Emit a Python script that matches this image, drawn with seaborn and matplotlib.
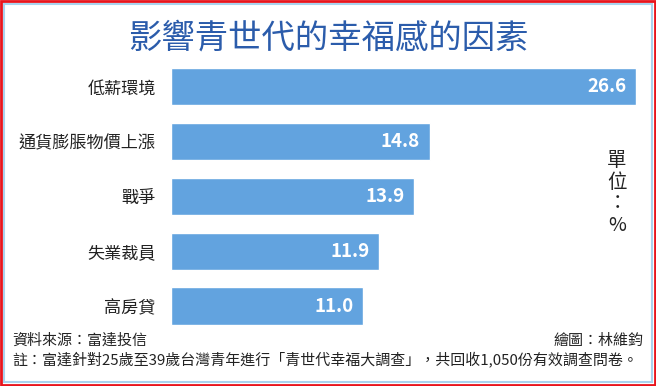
import matplotlib
matplotlib.use("Agg")
import matplotlib.pyplot as plt
import seaborn as sns
import pandas as pd
from matplotlib.patches import Rectangle

# 資料
categories = ["低薪環境", "通貨膨脹物價上漲", "戰爭", "失業裁員", "高房貸"]
values = [26.6, 14.8, 13.9, 11.9, 11.0]

title = "影響青世代的幸福感的因素"
source = "資料來源：富達投信"
credit = "繪圖：林維鈞"
note = "註：富達針對25歲至39歲台灣青年進行「青世代幸福大調查」，共回收1,050份有效調查問卷。"

sns.set_theme(style="white")
plt.rcParams["font.family"] = ["Noto Sans CJK TC", "DejaVu Sans"]

df = pd.DataFrame({"因素": categories, "比例": values})

W, H = 656, 386
fig = plt.figure(figsize=(W / 100, H / 100), dpi=100)
ax = fig.add_axes([171 / W, 1 - 333.4 / H, (636 - 171) / W, 274 / H])

sns.barplot(data=df, y="因素", x="比例", color="#62a3df", saturation=1,
            width=0.68, ax=ax)
ax.set_xlim(0, 26.6)
ax.set_ylim(4.5, -0.5)
ax.set_xlabel("")
ax.set_ylabel("")
ax.set_xticks([])
ax.tick_params(axis="y", length=0, pad=11, labelsize=12.3, labelcolor="#222222")
for s in ax.spines.values():
    s.set_visible(False)
ax.patch.set_alpha(0)

for i, v in enumerate(values):
    ax.text(v - 0.55, i, f"{v:.1f}", ha="right", va="center", color="white",
            fontsize=13.5, fontweight="bold")

fig.text(328 / W, 1 - 38 / H, title, ha="center", va="center",
         fontsize=24, color="#2b5cab")

fig.text(617 / W, 1 - 193 / H, "單\n位\n：\n%", ha="center", va="center",
         fontsize=14, color="#222222", linespacing=1.05)

fig.text(12 / W, 1 - 341 / H, source, ha="left", va="center",
         fontsize=10.8, color="#222222")
fig.text(643 / W, 1 - 341 / H, credit, ha="right", va="center",
         fontsize=10.8, color="#222222")
fig.text(12 / W, 1 - 359 / H, note, ha="left", va="center",
         fontsize=10.8, color="#222222")

# 邊框
fig.patches.append(Rectangle((4 / W, 4 / H), 1 - 8 / W, 1 - 8 / H,
                             transform=fig.transFigure, fill=False,
                             edgecolor="#a9d3ee", linewidth=1.5))
fig.patches.append(Rectangle((1 / W, 1 / H), 1 - 2 / W, 1 - 2 / H,
                             transform=fig.transFigure, fill=False,
                             edgecolor="#e8141c", linewidth=2))

fig.savefig("out.png", dpi=100)
